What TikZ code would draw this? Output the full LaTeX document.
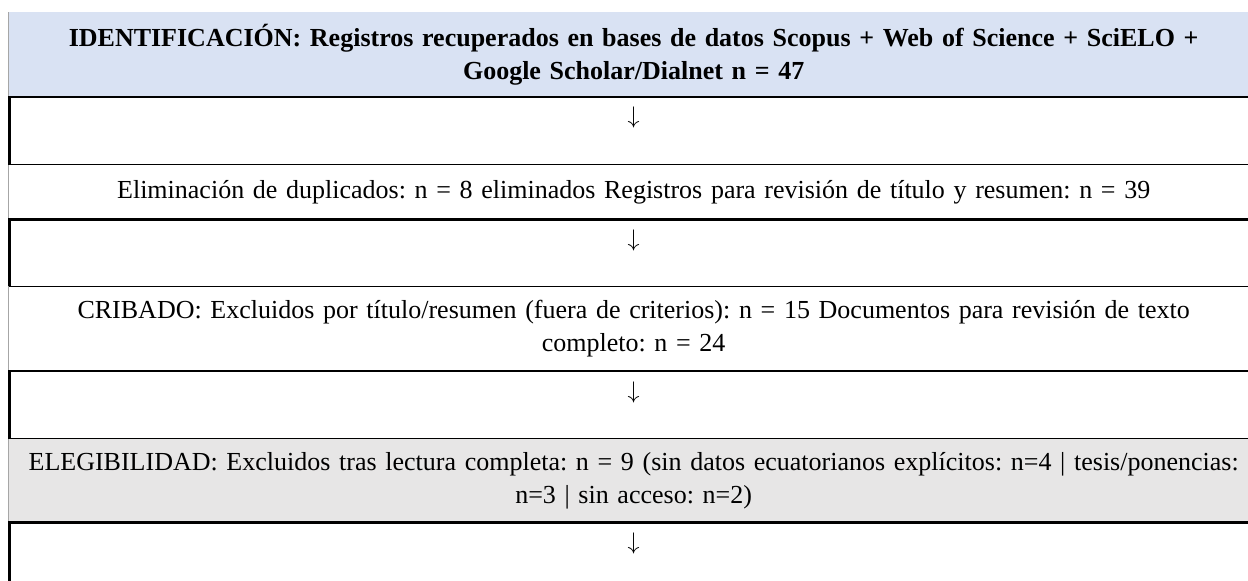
\documentclass[tikz,border=0pt]{standalone}
\usepackage{fontspec}
\setmainfont{Liberation Serif}
\usepackage{tikz}
\usetikzlibrary{positioning}
\frenchspacing
\definecolor{IdBlue}{HTML}{D9E2F3}
\definecolor{ElGray}{HTML}{E7E6E6}
\definecolor{EdgeGray}{HTML}{A6A6A6}
\tikzset{
	cell/.style={inner sep=0pt, minimum width=624.75pt, text width=620pt, align=center,
		font=\fontsize{13}{16.5}\selectfont},
	gapcell/.style={cell, minimum height=33.5pt},
	downmark/.style={inner sep=0pt, font=\fontsize{13}{16.5}\selectfont},
	ruleheavy/.style={line width=1.3pt, draw=black},
	rulelight/.style={line width=0.65pt, draw=black},
	edgelight/.style={line width=0.5pt, draw=EdgeGray}
}

\begin{document}
\begin{tikzpicture}[x=0.5pt, y=-0.5pt, node distance=0pt]
		\useasboundingbox (0,0) rectangle (1248,580);
		% filas de la tabla
		\node[cell, anchor=north west, minimum height=42pt, fill=IdBlue, font=\fontsize{13}{16.5}\selectfont\bfseries] (ident) at (8.5,12)
		{IDENTIFICACIÓN: Registros recuperados en bases de datos Scopus + Web of Science + SciELO +\\ Google Scholar/Dialnet n = 47};
		\node[gapcell, below=of ident] (gap1) {};
		\node[cell, minimum height=27pt, below=of gap1] (dup)
		{Eliminación de duplicados: n = 8 eliminados Registros para revisión de título y resumen: n = 39};
		\node[gapcell, minimum height=33pt, below=of dup] (gap2) {};
		\node[cell, minimum height=42pt, below=of gap2] (crib)
		{CRIBADO: Excluidos por título/resumen (fuera de criterios): n = 15 Documentos para revisión de texto\\ completo: n = 24};
		\node[gapcell, below=of crib] (gap3) {};
		\node[cell, minimum height=41.5pt, fill=ElGray, below=of gap3] (eleg)
		{ELEGIBILIDAD: Excluidos tras lectura completa: n = 9 (sin datos ecuatorianos explícitos: n=4 | tesis/ponencias:\\ n=3 | sin acceso: n=2)};
		\node[gapcell, minimum height=36pt, below=of eleg] (gap4) {};
		% flechas
		\node[downmark] (dn1) at ([yshift=-10.5pt]gap1.north) {$\downarrow$};
		\node[downmark] (dn2) at ([yshift=-10.5pt]gap2.north) {$\downarrow$};
		\node[downmark] (dn3) at ([yshift=-10.5pt]gap3.north) {$\downarrow$};
		\node[downmark] (dn4) at ([yshift=-10.5pt]gap4.north) {$\downarrow$};
		% bordes
		\draw[edgelight] (ident.north west) -- (ident.south west);
		\draw[edgelight] (dup.north west) -- (dup.south west);
		\draw[edgelight] (crib.north west) -- (crib.south west);
		\draw[edgelight] (eleg.north west) -- (eleg.south west);
		\draw[rulelight] (gap1.south west) -- (gap1.south east);
		\draw[rulelight] (gap2.south west) -- (gap2.south east);
		\draw[rulelight] (gap3.south west) -- (gap3.south east);
		\draw[ruleheavy] ([xshift=0.5pt]gap1.south west) -- ([xshift=0.5pt]gap1.north west) -- (gap1.north east);
		\draw[ruleheavy] ([xshift=0.5pt]gap2.south west) -- ([xshift=0.5pt]gap2.north west) -- (gap2.north east);
		\draw[ruleheavy] ([xshift=0.5pt]gap3.south west) -- ([xshift=0.5pt]gap3.north west) -- (gap3.north east);
		\draw[ruleheavy] ([xshift=0.5pt]gap4.south west) -- ([xshift=0.5pt]gap4.north west) -- (gap4.north east);
	\end{tikzpicture}
\end{document}
